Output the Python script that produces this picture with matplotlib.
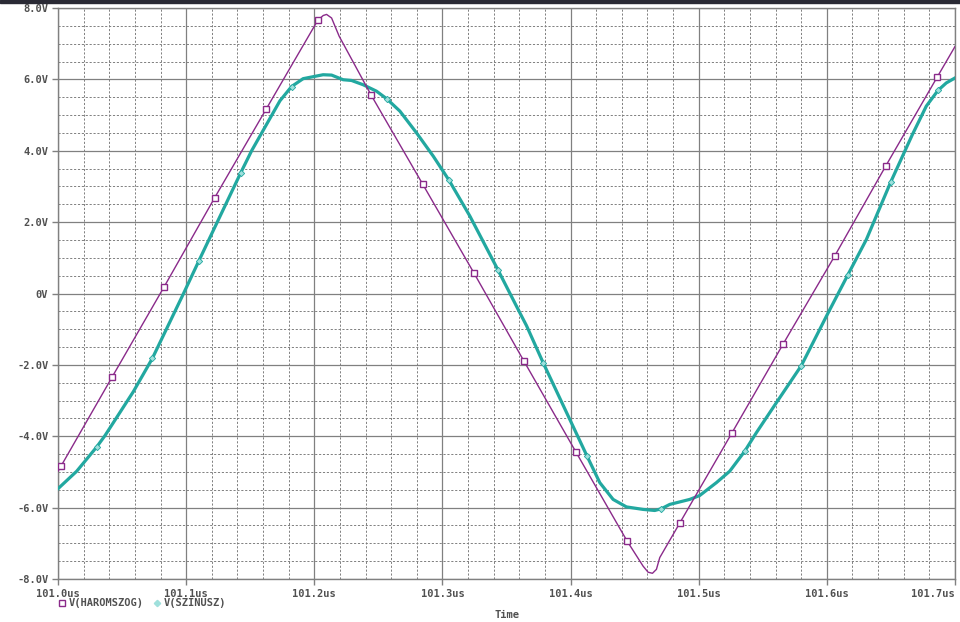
import numpy as np
import matplotlib
matplotlib.use("Agg")
import matplotlib.pyplot as plt
from matplotlib.lines import Line2D
from matplotlib.patches import Rectangle

# V(HAROMSZOG) - triangle wave, time in us, voltage in V
tri_t = [101.0000, 101.0023, 101.0424, 101.0827, 101.1222, 101.1625, 101.2028,
         101.2070, 101.2096, 101.2135, 101.2194, 101.2442, 101.2845, 101.3245,
         101.3637, 101.4040, 101.4440, 101.4566, 101.4605, 101.4639, 101.4670,
         101.4696, 101.4854, 101.5257, 101.5658, 101.6061, 101.6459, 101.6862,
         101.7000]
tri_v = [-4.98, -4.84, -2.33, 0.18, 2.68, 5.17, 7.66,
         7.79, 7.82, 7.72, 7.21, 5.57, 3.07, 0.58,
         -1.90, -4.43, -6.93, -7.64, -7.81, -7.84, -7.73,
         -7.40, -6.42, -3.92, -1.42, 1.05, 3.57, 6.07,
         6.92]
tri_marks = [1, 2, 3, 4, 5, 6, 11, 12, 13, 14, 15, 16, 22, 23, 24, 25, 26, 27]

# V(SZINUSZ) - shaped sine
sin_t = [101.0000, 101.0146, 101.0302, 101.0367, 101.0588, 101.0736, 101.0977,
         101.1100, 101.1211, 101.1427, 101.1511, 101.1732, 101.1823, 101.1913,
         101.2069, 101.2135, 101.2225, 101.2290, 101.2381, 101.2485, 101.2564,
         101.2668, 101.2798, 101.2928, 101.3052, 101.3214, 101.3435, 101.3604,
         101.3656, 101.3786, 101.4129, 101.4228, 101.4332, 101.4436, 101.4566,
         101.4657, 101.4709, 101.4774, 101.4930, 101.5008, 101.5138, 101.5242,
         101.5359, 101.5450, 101.5606, 101.5801, 101.5996, 101.6165, 101.6308,
         101.6498, 101.6667, 101.6776, 101.6867, 101.6932, 101.7000]
sin_v = [-5.47, -4.98, -4.30, -3.98, -2.75, -1.82, -0.02,
         0.92, 1.76, 3.39, 4.00, 5.40, 5.80, 6.02,
         6.13, 6.12, 5.99, 5.97, 5.85, 5.67, 5.46,
         5.11, 4.50, 3.85, 3.17, 2.17, 0.65, -0.54,
         -0.90, -1.94, -4.56, -5.30, -5.77, -5.98, -6.05,
         -6.08, -6.03, -5.91, -5.77, -5.66, -5.30, -4.98,
         -4.42, -3.90, -3.06, -2.02, -0.64, 0.53, 1.51,
         3.12, 4.45, 5.25, 5.69, 5.90, 6.04]
sin_marks = [2, 5, 7, 9, 12, 20, 24, 26, 29, 30, 36, 42, 45, 47, 49, 52]

x_ticks = [101.0, 101.1, 101.2, 101.3, 101.4, 101.5, 101.6, 101.7]
x_labels = ["101.0us", "101.1us", "101.2us", "101.3us", "101.4us",
            "101.5us", "101.6us", "101.7us"]
y_ticks = [-8, -6, -4, -2, 0, 2, 4, 6, 8]
y_labels = ["-8.0V", "-6.0V", "-4.0V", "-2.0V", "0V", "2.0V", "4.0V", "6.0V", "8.0V"]

purple = "#8a2a8a"
cyan = "#22a8a0"
txt = "#505050"
font = dict(family="DejaVu Sans Mono", weight="bold", size=7.5, color=txt)

fig = plt.figure(figsize=(9.6, 6.22), dpi=100)
ax = fig.add_axes([58/960, 43/622, 897/960, 571/622])

ax.set_xlim(101.0, 101.7)
ax.set_ylim(-8, 8)
ax.set_xticks(x_ticks)
ax.set_yticks(y_ticks)
ax.set_xticks(np.linspace(101.0, 101.7, 36), minor=True)
ax.set_yticks(np.linspace(-8, 8, 33), minor=True)
ax.set_xticklabels(x_labels, fontdict=font)
ax.set_yticklabels(y_labels, fontdict=font)
ax.get_xticklabels()[-1].set_ha("right")

ax.grid(which="major", color="#808080", lw=0.9, ls="-")
ax.grid(which="minor", color="#808080", lw=0.7, ls=(0, (2.2, 1.8)))
ax.set_axisbelow(True)
ax.tick_params(which="major", direction="out", length=4, width=1,
               color="#808080", pad=3)
ax.tick_params(which="minor", length=0)
for s in ax.spines.values():
    s.set_color("#808080")
    s.set_linewidth(1)

ax.plot(sin_t, sin_v, color=cyan, lw=2.3, marker="D", ms=3.2,
        mfc="#9fe0dc", mec=cyan, mew=0.6, markevery=sin_marks, zorder=3)
ax.plot(tri_t, tri_v, color=purple, lw=1.0, marker="s", ms=4.2,
        mfc="white", mec=purple, mew=1.0, markevery=tri_marks, zorder=4)

# legend and axis title
ly = 1 - 603/622
fig.add_artist(Line2D([62/960], [ly], marker="s", ms=4, mfc="white",
                      mec=purple, mew=1, transform=fig.transFigure))
fig.text(69/960, ly, "V(HAROMSZOG)", va="center", ha="left", **font)
fig.add_artist(Line2D([157/960], [ly], marker="D", ms=3.2, mfc="#9fe0dc",
                      mec="#9fe0dc", transform=fig.transFigure))
fig.text(164/960, ly, "V(SZINUSZ)", va="center", ha="left", **font)
fig.text(507/960, 1 - 615/622, "Time", va="center", ha="center", **font)

# window border at the top
fig.add_artist(Rectangle((0, 1 - 3/622), 1, 3/622, transform=fig.transFigure,
                         color="#2a2a35"))

fig.savefig("out.png", dpi=100)
